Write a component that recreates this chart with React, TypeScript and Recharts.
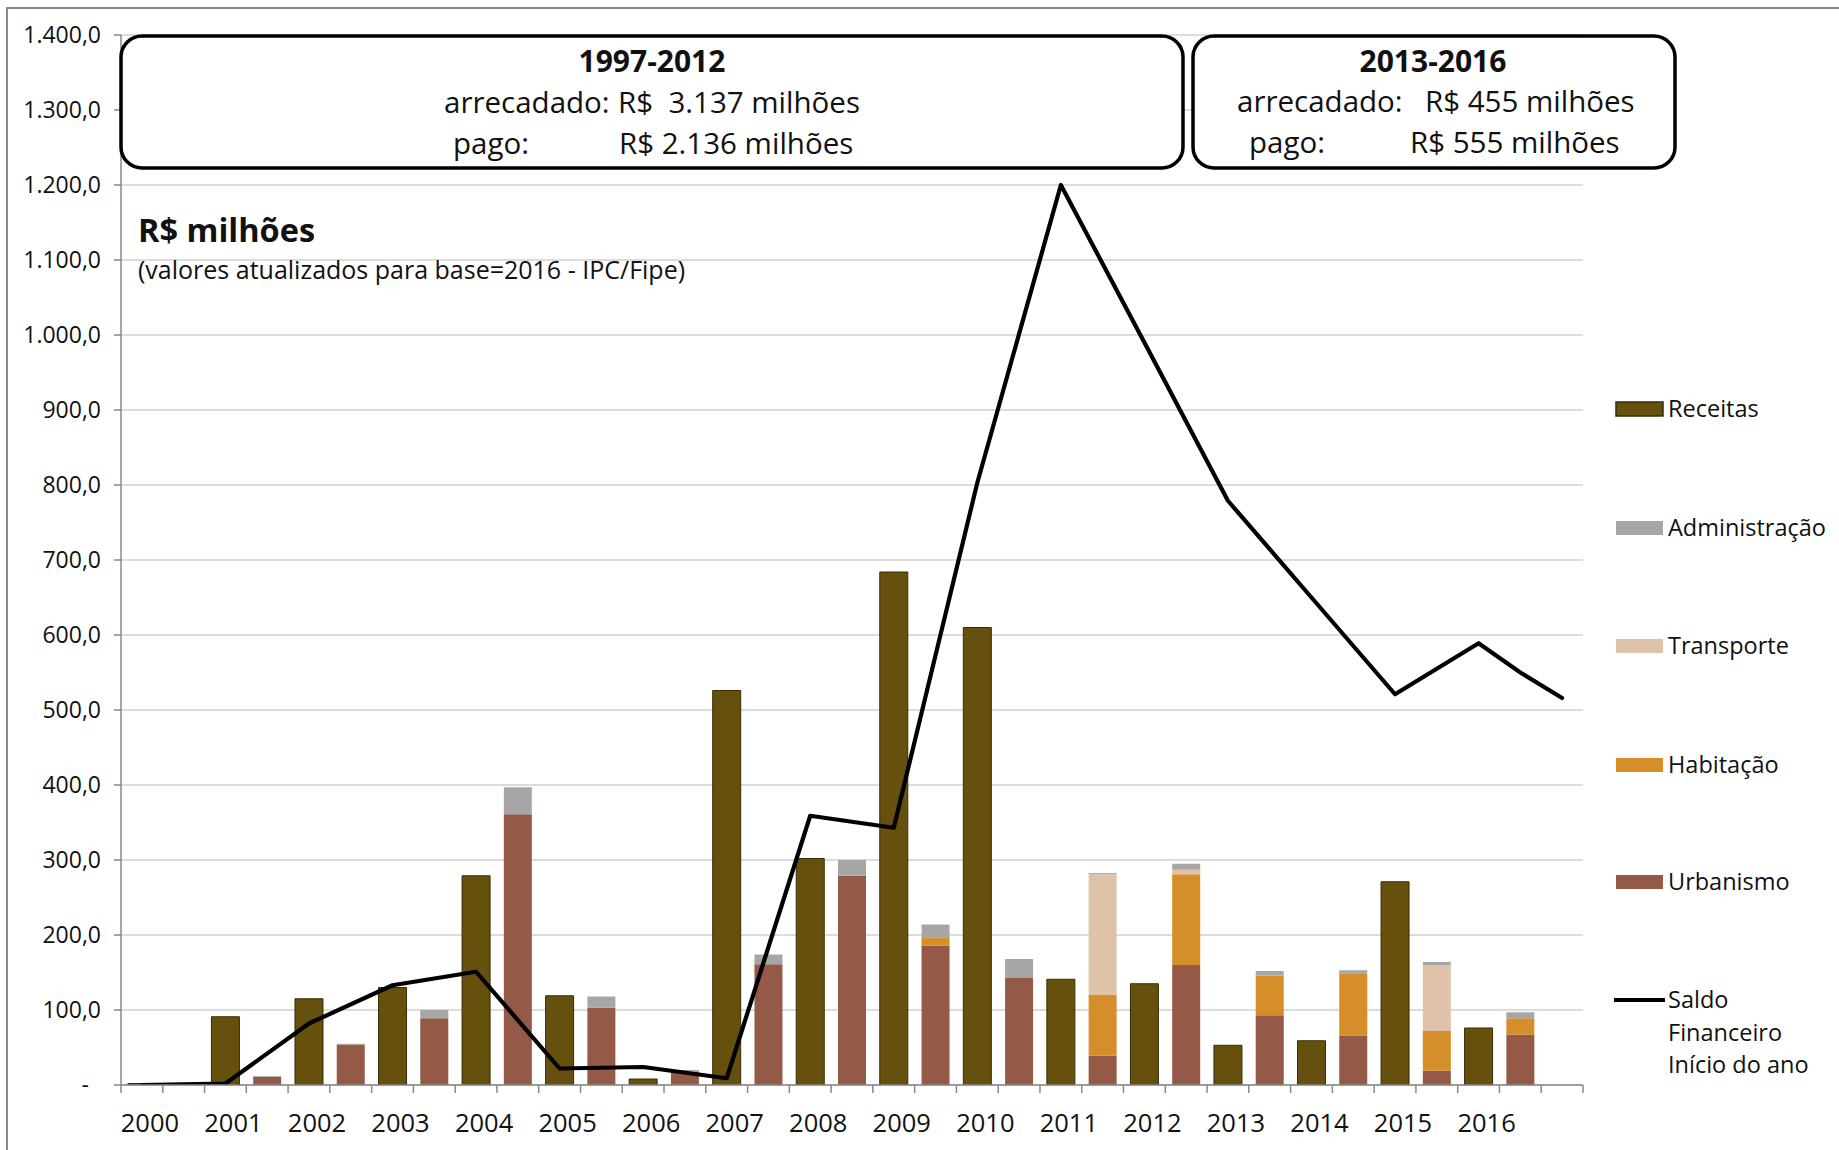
import React from 'react';
import { ComposedChart, Bar, Line, XAxis, YAxis, CartesianGrid, Legend } from 'recharts';

// ---------- data ----------
const years = ['2000', '2001', '2002', '2003', '2004', '2005', '2006', '2007', '2008', '2009', '2010', '2011', '2012', '2013', '2014', '2015', '2016'];
const receitas = [2, 91, 115, 130, 279, 119, 8, 526, 302, 684, 610, 141, 135, 53, 59, 271, 76];
const urbanismo = [0, 11, 54, 89, 361, 103, 18, 161, 279, 186, 143, 39, 160, 93, 66, 19, 67];
const habitacao = [0, 0, 0, 0, 0, 0, 0, 0, 0, 11, 1, 81, 121, 53, 83, 53, 22];
const transporte = [0, 0, 0, 0, 0, 0, 0, 0, 0, 0, 0, 161, 6, 0, 0, 88, 0];
const administracao = [0, 1, 1, 11, 36, 15, 2, 13, 21, 17, 24, 1.5, 8, 6, 4, 4, 8];
// saldo per category slot (two slots per year + one final slot)
const saldo = [
  0, null, 2, null, 82, null, 133, null, 151, null, 22, null, 24, null, 9, null,
  359, null, 343, null, 803, null, 1200, null, 990, null, 779, null, 650, null,
  521, null, 589, 550, 516,
];
const yTicks = [0, 100, 200, 300, 400, 500, 600, 700, 800, 900, 1000, 1100, 1200, 1300, 1400];

const seriesNames = {
  receitas: 'Receitas',
  administracao: 'Administração',
  transporte: 'Transporte',
  habitacao: 'Habitação',
  urbanismo: 'Urbanismo',
  saldo: 'Saldo Financeiro Início do ano',
};
const legendOrder = ['receitas', 'administracao', 'transporte', 'habitacao', 'urbanismo', 'saldo'];

const COLORS = {
  receitas: '#66500E',
  receitasStroke: '#3A2C02',
  urbanismo: '#955948',
  habitacao: '#D58E2A',
  transporte: '#DEC3A9',
  administracao: '#A6A6A6',
  saldo: '#000000',
};

const data: any[] = [];
years.forEach((yr, i) => {
  data.push({ cat: yr, receitas: receitas[i], urbanismo: 0, habitacao: 0, transporte: 0, administracao: 0, saldo: saldo[2 * i] });
  data.push({ cat: yr + ' desp', receitas: 0, urbanismo: urbanismo[i], habitacao: habitacao[i], transporte: transporte[i], administracao: administracao[i], saldo: saldo[2 * i + 1] });
});
data.push({ cat: 'fim', receitas: 0, urbanismo: 0, habitacao: 0, transporte: 0, administracao: 0, saldo: saldo[34] });

// ---------- layout ----------
const W = 1839;
const H = 1150;
const PLOT_LEFT = 121;
const PLOT_RIGHT = 1583;
const PLOT_TOP = 35;
const PLOT_BOTTOM = 1085;
const X_AXIS_H = 60;
const N = data.length;
const BAND = (PLOT_RIGHT - PLOT_LEFT) / N;
const FONT = "'Open Sans', 'Noto Sans', sans-serif";
const AXIS_COLOR = '#888888';
const TEXT = '#111111';

const fmt = (v: number) => {
  if (v === 0) return '-';
  const int = Math.floor(v);
  const s = String(int).replace(/\B(?=(\d{3})+(?!\d))/g, '.');
  return s + ',0';
};

const YTick = (props: any) => {
  const { x, y, payload } = props;
  const v = payload.value;
  return (
    <text x={v === 0 ? x - 12 : x} y={y} dy={8} textAnchor="end" fontFamily={FONT} fontSize={23} fill={TEXT}>
      {fmt(v)}
    </text>
  );
};

const XTick = (props: any) => {
  const { x, y, payload } = props;
  const idx = payload && payload.index != null ? payload.index : props.index;
  const left = x - BAND / 2;
  const right = x + BAND / 2;
  return (
    <g>
      <line x1={left} x2={left} y1={y} y2={y + 8} stroke={AXIS_COLOR} strokeWidth={1.5} />
      {idx === N - 1 && <line x1={right} x2={right} y1={y} y2={y + 8} stroke={AXIS_COLOR} strokeWidth={1.5} />}
      {idx % 2 === 0 && idx / 2 < years.length && (
        <text x={x + 8} y={y + 47} textAnchor="middle" fontFamily={FONT} fontSize={25.5} fill={TEXT}>
          {years[idx / 2]}
        </text>
      )}
    </g>
  );
};

const renderLegend = (props: any) => {
  const payload: any[] = props.payload || [];
  const rows = [29, 148, 266, 385, 502, 620];
  return (
    <svg width={239} height={720} style={{ overflow: 'visible' }}>
      {legendOrder.map((key, i) => {
        const entry = payload.find((p) => p.dataKey === key);
        const color = entry ? entry.color : (COLORS as any)[key];
        const cy = rows[i];
        if (key === 'saldo') {
          return (
            <g key={key}>
              <line x1={14} x2={65} y1={cy} y2={cy} stroke={color} strokeWidth={4} />
              <text x={68} y={cy + 8} fontFamily={FONT} fontSize={23.5} fill={TEXT}>Saldo</text>
              <text x={68} y={cy + 41} fontFamily={FONT} fontSize={23.5} fill={TEXT}>Financeiro</text>
              <text x={68} y={cy + 73} fontFamily={FONT} fontSize={23.5} fill={TEXT}>Início do ano</text>
            </g>
          );
        }
        return (
          <g key={key}>
            <rect x={16} y={cy - 7} width={47} height={14} fill={color}
              stroke={key === 'receitas' ? COLORS.receitasStroke : 'none'} strokeWidth={key === 'receitas' ? 1.5 : 0} />
            <text x={68} y={cy + 8} fontFamily={FONT} fontSize={23.5} fill={TEXT}>
              {(seriesNames as any)[key]}
            </text>
          </g>
        );
      })}
    </svg>
  );
};

const Overlay = () => (
  <svg width={W} height={H} style={{ position: 'absolute', left: 0, top: 0, pointerEvents: 'none' }}>
    <rect x={7} y={8} width={W + 20} height={H + 20} fill="none" stroke="#8A8A8A" strokeWidth={2} />
    {/* box 1 */}
    <rect x={121} y={36} width={1062} height={132} rx={21} ry={21} fill="#ffffff" stroke="#000" strokeWidth={3.5} />
    <text x={652} y={72} textAnchor="middle" fontFamily={FONT} fontWeight={700} fontSize={30} fill={TEXT}>1997-2012</text>
    <text x={444} y={113} fontFamily={FONT} fontSize={29.5} fill={TEXT}>arrecadado:</text>
    <text x={618} y={113} fontFamily={FONT} fontSize={29.5} fill={TEXT} style={{ whiteSpace: 'pre' }}>{'R$  3.137 milhões'}</text>
    <text x={453} y={154} fontFamily={FONT} fontSize={29.5} fill={TEXT}>pago:</text>
    <text x={619} y={154} fontFamily={FONT} fontSize={29.5} fill={TEXT}>R$ 2.136 milhões</text>
    {/* box 2 */}
    <rect x={1193} y={36} width={482} height={132} rx={21} ry={21} fill="#ffffff" stroke="#000" strokeWidth={3.5} />
    <text x={1433} y={72} textAnchor="middle" fontFamily={FONT} fontWeight={700} fontSize={30} fill={TEXT}>2013-2016</text>
    <text x={1237} y={112} fontFamily={FONT} fontSize={29.5} fill={TEXT}>arrecadado:</text>
    <text x={1425} y={112} fontFamily={FONT} fontSize={29.5} fill={TEXT}>R$ 455 milhões</text>
    <text x={1249} y={153} fontFamily={FONT} fontSize={29.5} fill={TEXT}>pago:</text>
    <text x={1410} y={153} fontFamily={FONT} fontSize={29.5} fill={TEXT}>R$ 555 milhões</text>
    {/* titles */}
    <text x={138} y={242} fontFamily={FONT} fontWeight={700} fontSize={32.5} fill={TEXT}>R$ milhões</text>
    <text x={138} y={279} fontFamily={FONT} fontSize={25} fill={TEXT}>(valores atualizados para base=2016 - IPC/Fipe)</text>
  </svg>
);

export default function App() {
  return (
    <div style={{ position: 'absolute', left: 0, top: 0, width: W, height: H, background: '#fff', fontFamily: FONT }}>
      <ComposedChart
        width={W}
        height={H}
        data={data}
        margin={{ top: PLOT_TOP, right: W - PLOT_RIGHT, bottom: H - PLOT_BOTTOM - X_AXIS_H, left: 0 }}
        barCategoryGap="16.5%"
      >
        <CartesianGrid horizontal vertical={false} stroke="#D0D0D0" strokeWidth={1.5} />
        <XAxis
          dataKey="cat"
          height={X_AXIS_H}
          interval={0}
          tickSize={0}
          tickMargin={0}
          tickLine={false}
          axisLine={{ stroke: AXIS_COLOR, strokeWidth: 1.5 }}
          tick={<XTick />}
        />
        <YAxis
          width={PLOT_LEFT}
          domain={[0, 1400]}
          ticks={yTicks}
          interval={0}
          tickSize={7}
          tickMargin={13}
          axisLine={{ stroke: AXIS_COLOR, strokeWidth: 1.5 }}
          tickLine={{ stroke: AXIS_COLOR, strokeWidth: 1.5 }}
          tick={<YTick />}
          allowDataOverflow
        />
        <Bar dataKey="receitas" name={seriesNames.receitas} stackId="a" fill={COLORS.receitas} stroke={COLORS.receitasStroke} strokeWidth={1} isAnimationActive={false} />
        <Bar dataKey="urbanismo" name={seriesNames.urbanismo} stackId="a" fill={COLORS.urbanismo} isAnimationActive={false} />
        <Bar dataKey="habitacao" name={seriesNames.habitacao} stackId="a" fill={COLORS.habitacao} isAnimationActive={false} />
        <Bar dataKey="transporte" name={seriesNames.transporte} stackId="a" fill={COLORS.transporte} isAnimationActive={false} />
        <Bar dataKey="administracao" name={seriesNames.administracao} stackId="a" fill={COLORS.administracao} isAnimationActive={false} />
        <Line dataKey="saldo" name={seriesNames.saldo} type="linear" stroke={COLORS.saldo} strokeWidth={4.2} strokeLinejoin="round" strokeLinecap="round" dot={false} activeDot={false} connectNulls isAnimationActive={false} />
        <Legend
          layout="vertical"
          align="center"
          verticalAlign="middle"
          wrapperStyle={{ left: 1600, top: 380, width: 239, height: 720 }}
          content={renderLegend}
        />
      </ComposedChart>
      <Overlay />
    </div>
  );
}
